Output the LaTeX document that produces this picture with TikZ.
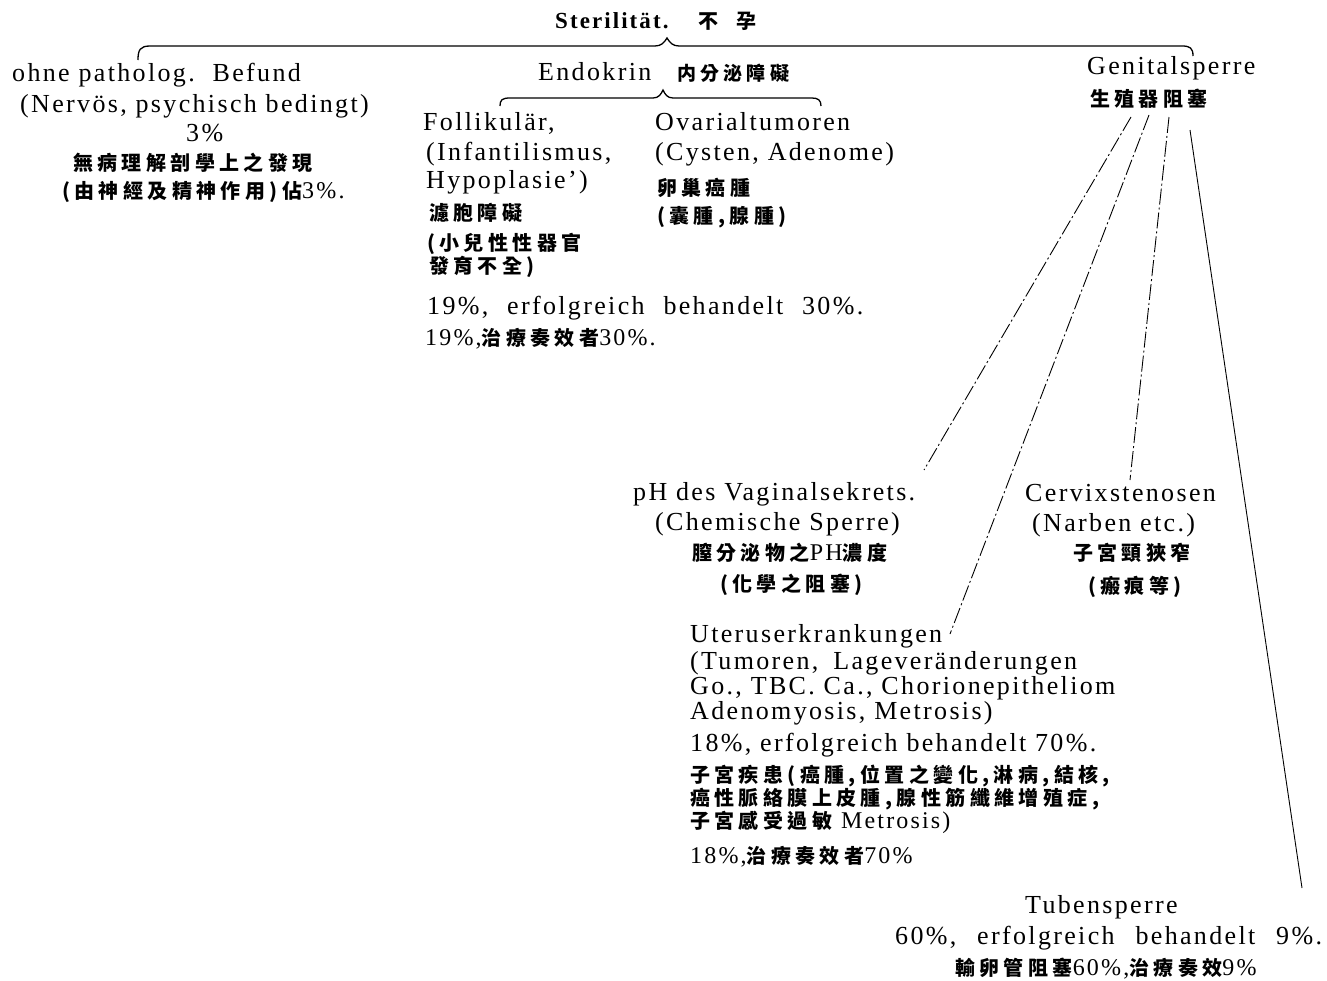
\documentclass[tikz,border=0pt]{standalone}
\usepackage{fontspec}
\setmainfont{Liberation Serif}[LetterSpace=9]
\newfontfamily\cjk{Noto Sans CJK TC}[LetterSpace=22]
\newfontfamily\cjkt{Noto Sans CJK TC}[LetterSpace=90]
\newcommand\latf{\fontsize{26}{30}\selectfont}
\newcommand\zhf{\cjk\bfseries\fontsize{20}{24}\selectfont}
\newcommand\zhs{\cjk\bfseries\fontsize{19}{22}\selectfont}
\newcommand\numf{\rmfamily\mdseries\fontsize{24}{28}\selectfont}
\begin{document}
\begin{tikzpicture}[x=1pt,y=-1pt,
  lat/.style={inner sep=0pt,anchor=base west,font=\latf},
  zh/.style={inner sep=0pt,anchor=base west,font=\zhf},
  bracel/.style={line width=1.3pt},
  gline/.style={line width=0.9pt,dash pattern=on 16pt off 3pt on 2pt off 3pt},
  gsolid/.style={line width=0.9pt}]
\useasboundingbox[fill=white] (0,0) rectangle (1327,980);

% title
\node[inner sep=0pt,anchor=base west,font=\bfseries\fontsize{23}{26}\selectfont] (title) at (555,28) {Sterilität.\hspace{30pt}{\cjkt\bfseries\fontsize{20}{24}\selectfont 不孕}};

% top brace
\draw[bracel] (138,60) .. controls (138,50) and (140,46) .. (150,46) -- (655,46)
  .. controls (661,46) and (664,43) .. (667,38) .. controls (670,43) and (673,46) .. (679,46)
  -- (1182,46) .. controls (1190,46) and (1193,48) .. (1193,56);

% left branch
\node[lat] (n1) at (12,81) {ohne patholog.\hspace{6pt} Befund};
\node[lat] (n2) at (20,112) {(Nervös, psychisch bedingt)};
\node[lat] (n3) at (186,141) {3\%};
\node[zh] (n4) at (73,170) {無病理解剖學上之發現};
\node[zh] (n5) at (62,198) {(由神經及精神作用)佔{\numf 3\%.}};

% endocrine
\node[lat] (e0) at (538,80) {Endokrin\hspace{26pt}{\zhs 内分泌障礙}};
\draw[bracel] (500,106) .. controls (500,100) and (502,98) .. (510,98) -- (653,98)
  .. controls (659,98) and (661,94) .. (663,90) .. controls (665,94) and (667,98) .. (673,98)
  -- (812,98) .. controls (818,98) and (821,100) .. (821,106);

\node[lat] (f1) at (423,130) {Follikulär,};
\node[lat] (f2) at (426,160) {(Infantilismus,};
\node[lat] (f3) at (426,188) {Hypoplasie’)};
\node[zh] (f4) at (429,220) {濾胞障礙};
\node[zh] (f5) at (427,250) {(小兒性性器官};
\node[zh] (f6) at (429,273) {發育不全)};

\node[lat] (o1) at (655,130) {Ovarialtumoren};
\node[lat] (o2) at (655,160) {(Cysten, Adenome)};
\node[zh] (o3) at (657,195) {卵巢癌腫};
\node[zh] (o4) at (657,223) {(囊腫,腺腫)};

\node[lat] (r1) at (427,314) {19\%,\hspace{10pt} erfolgreich\hspace{10pt} behandelt\hspace{10pt} 30\%.};
\node[zh] (r2) at (425,345) {{\numf 19\%,}治療奏效者{\numf 30\%.}};

% genital
\node[lat] (g0) at (1087,74) {Genitalsperre};
\node[zh] (g1) at (1090,106) {生殖器阻塞};

\node[lat] (p1) at (633,500) {pH des Vaginalsekrets.};
\node[lat] (p2) at (655,530) {(Chemische Sperre)};
\node[zh] (p3) at (692,560) {膣分泌物之{\numf PH}濃度};
\node[zh] (p4) at (720,591) {(化學之阻塞)};

\node[lat] (c1) at (1025,501) {Cervixstenosen};
\node[lat] (c2) at (1032,531) {(Narben etc.)};
\node[zh] (c3) at (1073,560) {子宮頸狹窄};
\node[zh] (c4) at (1088,593) {(瘢痕等)};

\node[lat] (u1) at (690,642) {Uteruserkrankungen};
\node[lat] (u2) at (690,669) {(Tumoren,\hspace{6pt} Lageveränderungen};
\node[lat] (u3) at (690,694) {Go., TBC. Ca., Chorionepitheliom};
\node[lat] (u4) at (690,719) {Adenomyosis, Metrosis)};
\node[lat] (u5) at (690,751) {18\%, erfolgreich behandelt 70\%.};
\node[zh] (u6) at (690,782) {子宮疾患(癌腫,位置之變化,淋病,結核,};
\node[zh] (u7) at (690,805) {癌性脈絡膜上皮腫,腺性筋纖維增殖症,};
\node[zh] (u8) at (690,828) {子宮感受過敏 {\numf Metrosis)}};
\node[zh] (u9) at (690,863) {{\numf 18\%,}治療奏效者{\numf 70\%}};

\node[lat] (t1) at (1025,913) {Tubensperre};
\node[lat] (t2) at (895,944) {60\%,\hspace{12pt} erfolgreich\hspace{12pt} behandelt\hspace{12pt} 9\%.};
\node[zh] (t3) at (955,975) {輸卵管阻塞{\numf 60\%,}治療奏效{\numf 9\%}};

% connectors from Genitalsperre
\coordinate (ga) at (1131,117);
\coordinate (gb) at (1149,115);
\coordinate (gc) at (1169,117);
\coordinate (gd) at (1190,130);
\coordinate (pa) at (924,470);
\coordinate (ua) at (950,634);
\coordinate (ca) at (1130,480);
\coordinate (ta) at (1302,888);
\draw[gline] (ga) -- (pa);
\draw[gline] (gb) -- (ua);
\draw[gline] (gc) -- (ca);
\draw[gsolid] (gd) -- (ta);
\end{tikzpicture}
\end{document}
